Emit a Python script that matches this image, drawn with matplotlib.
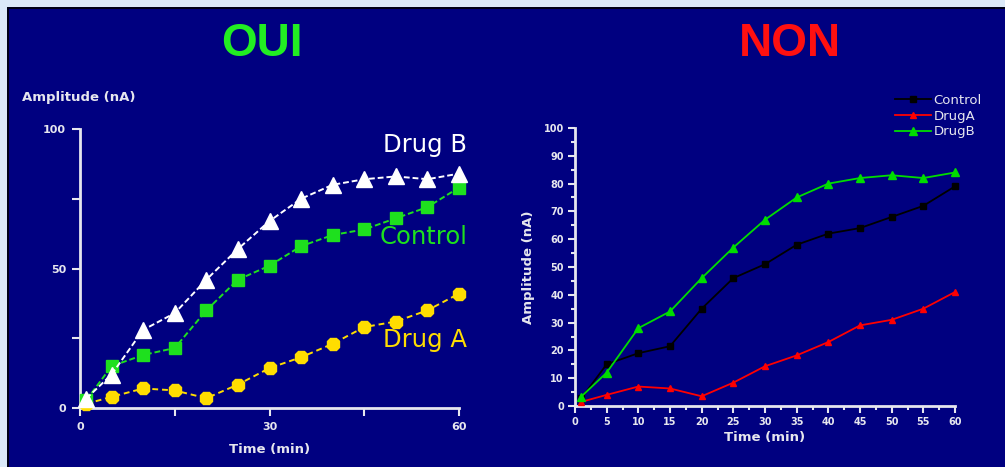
import matplotlib
matplotlib.use("Agg")
import matplotlib.pyplot as plt
from matplotlib.patches import Rectangle
from matplotlib.ticker import MultipleLocator

# temps de mesure (min) et amplitudes (nA)
temps = [1, 5, 10, 15, 20, 25, 30, 35, 40, 45, 50, 55, 60]
controle = [2.8, 15, 19, 21.5, 35, 46, 51, 58, 62, 64, 68, 72, 79]
drogue_a = [1.5, 4, 7, 6.3, 3.5, 8.4, 14.3, 18.2, 23, 29, 31, 35, 41]
drogue_b = [3.4, 12, 28, 34, 46, 57, 67, 75, 80, 82, 83, 82, 84]

NAVY = "#000080"
BLEU_CLAIR = "#dbe9f8"
VERT = "#1ee01e"
JAUNE = "#ffdd00"
AXE = "#e6e6ee"

W, H = 1005, 467
fig = plt.figure(figsize=(W / 100, H / 100), dpi=100, facecolor=BLEU_CLAIR)


def px(x0, y0, w, h):
    """rectangle en pixels (origine en haut a gauche) -> coordonnees figure"""
    return [x0 / W, 1 - (y0 + h) / H, w / W, h / H]


# panneau bleu marine avec une ombre noire en haut et a gauche
fig.patches.append(Rectangle((7 / W, 0), 1, 1 - 7 / H, transform=fig.transFigure,
                             facecolor="#000018", edgecolor="none", zorder=-2))
fig.patches.append(Rectangle((9 / W, 0), 1, 1 - 9 / H, transform=fig.transFigure,
                             facecolor=NAVY, edgecolor="none", zorder=-1))

fig.text(262 / W, 1 - 44 / H, "OUI", color="#22ee22", fontsize=33, weight="bold",
         family=["Liberation Sans Narrow", "Liberation Sans"], ha="center", va="center")
fig.text(790 / W, 1 - 44 / H, "NON", color="#ff1010", fontsize=33, weight="bold",
         family=["Liberation Sans Narrow", "Liberation Sans"], ha="center", va="center")


def habiller(ax):
    ax.set_facecolor(NAVY)
    ax.patch.set_alpha(0)
    for s in ("top", "right"):
        ax.spines[s].set_visible(False)
    for s in ("left", "bottom"):
        ax.spines[s].set_color(AXE)
        ax.spines[s].set_linewidth(2)
    ax.tick_params(which="both", direction="out", colors=AXE, width=1.5)


# --- graphique de gauche ---
ax1 = fig.add_axes(px(80, 129, 379, 279))
habiller(ax1)
ax1.set_xlim(0, 60)
ax1.set_ylim(0, 100)
ax1.xaxis.set_major_locator(MultipleLocator(30))
ax1.xaxis.set_minor_locator(MultipleLocator(15))
ax1.yaxis.set_major_locator(MultipleLocator(50))
ax1.yaxis.set_minor_locator(MultipleLocator(25))
ax1.tick_params(which="major", length=6, pad=4, labelsize=8)
ax1.tick_params(which="minor", length=6)
for lab in ax1.get_xticklabels() + ax1.get_yticklabels():
    lab.set_fontweight("bold")

ax1.plot(temps, drogue_a, color=JAUNE, lw=1.4, ls=(0, (3, 2)), marker="8",
         ms=10, mec=JAUNE, clip_on=False, zorder=3)
ax1.plot(temps, controle, color=VERT, lw=1.4, ls=(0, (3, 1.5)), marker="s",
         ms=9, mec=VERT, clip_on=False, zorder=4)
ax1.plot(temps, drogue_b, color="white", lw=1.4, ls=(0, (3, 1.5)), marker="^",
         ms=11, mec="white", clip_on=False, zorder=5)

ax1.text(61.3, 94.3, "Drug B", color="white", fontsize=17.5, ha="right", va="center")
ax1.text(61.3, 61.3, "Control", color=VERT, fontsize=17.5, ha="right", va="center")
ax1.text(61.3, 24.4, "Drug A", color=JAUNE, fontsize=17.5, ha="right", va="center")

ax1.set_xlabel("Time (min)", color=AXE, fontsize=9.5, weight="bold", labelpad=8)
fig.text(22 / W, 1 - 98 / H, "Amplitude (nA)", color=AXE, fontsize=9.5,
         weight="bold", va="center")

# --- graphique de droite ---
ax2 = fig.add_axes(px(575, 128, 380, 278))
habiller(ax2)
ax2.set_xlim(0, 60)
ax2.set_ylim(0, 100)
ax2.xaxis.set_major_locator(MultipleLocator(5))
ax2.xaxis.set_minor_locator(MultipleLocator(2.5))
ax2.yaxis.set_major_locator(MultipleLocator(10))
ax2.yaxis.set_minor_locator(MultipleLocator(5))
ax2.tick_params(which="major", length=5, pad=3, labelsize=7)
ax2.tick_params(which="minor", length=3)
for lab in ax2.get_xticklabels() + ax2.get_yticklabels():
    lab.set_fontweight("bold")

ax2.plot(temps, controle, color="black", lw=1.3, marker="s", ms=4.5,
         label="Control", clip_on=False, zorder=3)
ax2.plot(temps, drogue_a, color="#ff0000", lw=1.3, marker="^", ms=4.5,
         label="DrugA", clip_on=False, zorder=4)
ax2.plot(temps, drogue_b, color="#00dd00", lw=1.3, marker="^", ms=5.5,
         label="DrugB", clip_on=False, zorder=5)

ax2.set_xlabel("Time (min)", color=AXE, fontsize=9.5, weight="bold", labelpad=3)
ax2.set_ylabel("Amplitude (nA)", color=AXE, fontsize=9.5, weight="bold", labelpad=6)

leg = ax2.legend(loc="upper left", bbox_to_anchor=(895 / W, 1 - 94 / H),
                 bbox_transform=fig.transFigure, frameon=False, fontsize=9.5,
                 handlelength=2.7, handletextpad=0.2, labelspacing=0.2,
                 borderaxespad=0, borderpad=0)
for t in leg.get_texts():
    t.set_color(AXE)

fig.savefig("out.png", dpi=100, facecolor=fig.get_facecolor())
